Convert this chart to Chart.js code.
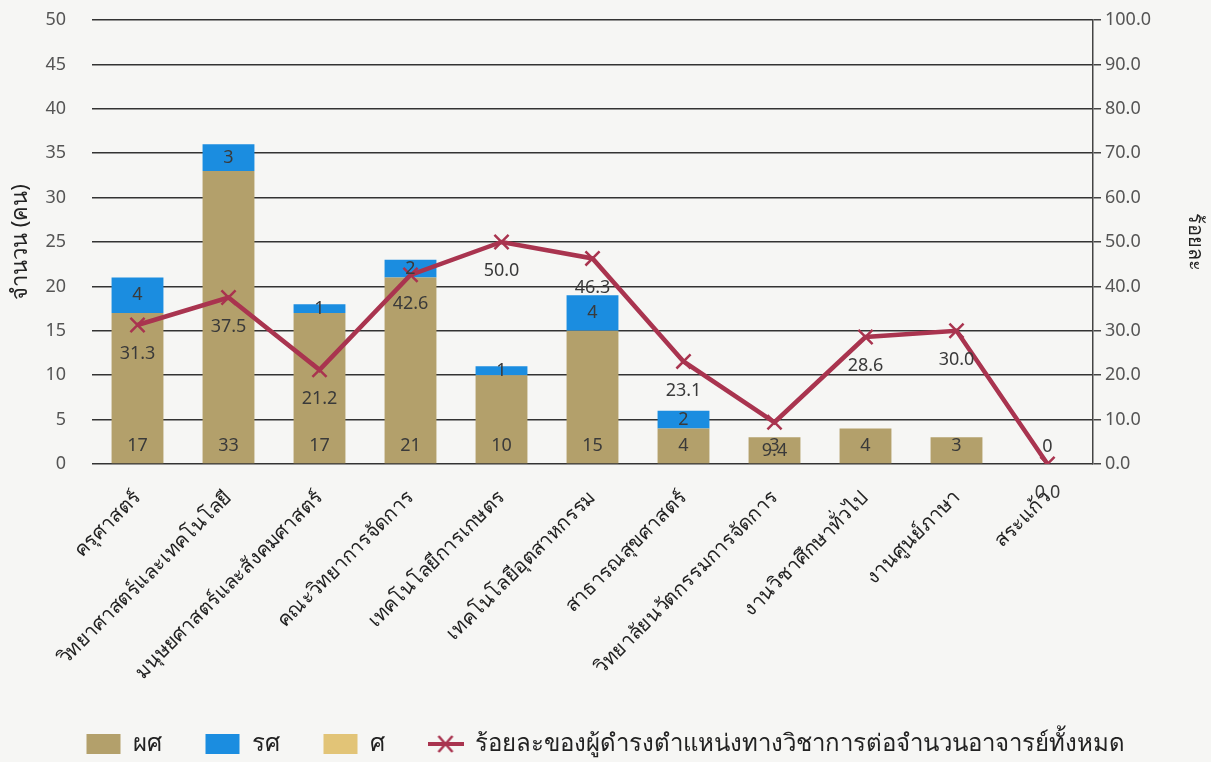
<!DOCTYPE html>
<html>
<head>
<meta charset="utf-8">
<script src="https://cdn.jsdelivr.net/npm/chart.js@4"></script>
<style>
  html, body { margin: 0; padding: 0; background: #f6f6f4; }
  #wrap { width: 1211px; height: 762px; }
</style>
</head>
<body>
<div id="wrap"><canvas id="myChart" width="1211" height="762"></canvas></div>
<script>
var categories = ['ครุศาสตร์', 'วิทยาศาสตร์และเทคโนโลยี', 'มนุษยศาสตร์และสังคมศาสตร์', 'คณะวิทยาการจัดการ',
    'เทคโนโลยีการเกษตร', 'เทคโนโลยีอุตสาหกรรม', 'สาธารณสุขศาสตร์', 'วิทยาลัยนวัตกรรมการจัดการ',
    'งานวิชาศึกษาทั่วไป', 'งานศูนย์ภาษา', 'สระแก้ว'];
var asstProf = [17, 33, 17, 21, 10, 15, 4, 3, 4, 3, 0];     // ผศ
var assocProf = [4, 3, 1, 2, 1, 4, 2, 0, 0, 0, 0];          // รศ
var fullProf = [0, 0, 0, 0, 0, 0, 0, 0, 0, 0, 0];           // ศ
var percent = [31.3, 37.5, 21.2, 42.6, 50.0, 46.3, 23.1, 9.4, 28.6, 30.0, 0.0];
var leftTicks = [0, 5, 10, 15, 20, 25, 30, 35, 40, 45, 50];
var rightTicks = [0, 10, 20, 30, 40, 50, 60, 70, 80, 90, 100];

var FONT = "'Noto Sans', 'DejaVu Sans', sans-serif";
var LINE_COLOR = '#a9344f';
Chart.defaults.font.family = FONT;
Chart.defaults.color = '#444';

// legend symbol for the line: short line with an x on it
var lineIcon = document.createElement('canvas');
lineIcon.width = 36;
lineIcon.height = 22;
(function() {
    var c = lineIcon.getContext('2d');
    c.strokeStyle = LINE_COLOR;
    c.lineWidth = 4;
    c.beginPath(); c.moveTo(0, 11); c.lineTo(36, 11); c.stroke();
    c.lineWidth = 2.5;
    c.beginPath();
    c.moveTo(11, 3); c.lineTo(25, 19);
    c.moveTo(25, 3); c.lineTo(11, 19);
    c.stroke();
})();

// draws the numbers on the bars and under the line points
var valueLabels = {
    id: 'valueLabels',
    afterDatasetsDraw: function(chart) {
        var ctx = chart.ctx;
        ctx.save();
        ctx.font = '18px ' + FONT;
        ctx.fillStyle = '#3a3a3a';
        ctx.textAlign = 'center';
        ctx.textBaseline = 'middle';
        var m0 = chart.getDatasetMeta(0);
        m0.data.forEach(function(bar, i) {
            ctx.fillText(String(asstProf[i]), bar.x, bar.base - 17);
        });
        var m1 = chart.getDatasetMeta(1);
        m1.data.forEach(function(bar, i) {
            if (assocProf[i] > 0) ctx.fillText(String(assocProf[i]), bar.x, (bar.y + bar.base) / 2);
        });
        var m3 = chart.getDatasetMeta(3);
        m3.data.forEach(function(pt, i) {
            ctx.fillText(percent[i].toFixed(1), pt.x, pt.y + 29);
        });
        ctx.restore();
    }
};

var bgPlugin = {
    id: 'bg',
    beforeDraw: function(chart) {
        var ctx = chart.ctx;
        ctx.save();
        ctx.fillStyle = '#f6f6f4';
        ctx.fillRect(0, 0, chart.width, chart.height);
        ctx.restore();
    }
};

var ctx = document.getElementById('myChart').getContext('2d');
var myChart = new Chart(ctx, {
    data: {
        labels: categories,
        datasets: [{
            type: 'bar',
            label: 'ผศ',
            data: asstProf,
            backgroundColor: '#b3a06b',
            pointStyle: 'rect',
            stack: 's',
            order: 2
        }, {
            type: 'bar',
            label: 'รศ',
            data: assocProf,
            backgroundColor: '#1b8de0',
            pointStyle: 'rect',
            stack: 's',
            order: 2
        }, {
            type: 'bar',
            label: 'ศ',
            data: fullProf,
            backgroundColor: '#e2c477',
            pointStyle: 'rect',
            stack: 's',
            order: 2
        }, {
            type: 'line',
            label: 'ร้อยละของผู้ดำรงตำแหน่งทางวิชาการต่อจำนวนอาจารย์ทั้งหมด',
            data: percent,
            yAxisID: 'y1',
            borderColor: LINE_COLOR,
            backgroundColor: LINE_COLOR,
            borderWidth: 4.5,
            pointStyle: 'crossRot',
            pointRadius: 10,
            pointBorderWidth: 2.5,
            tension: 0,
            order: 1
        }]
    },
    options: {
        responsive: false,
        animation: false,
        layout: { padding: { top: 20, left: 0, right: 0, bottom: -4 } },
        datasets: {
            bar: { categoryPercentage: 1.0, barPercentage: 0.57 }
        },
        plugins: {
            legend: {
                position: 'bottom',
                labels: {
                    usePointStyle: true,
                    pointStyleWidth: 34,
                    boxHeight: 20,
                    padding: 44,
                    color: '#222',
                    font: { size: 24 },
                    sort: function(a, b) { return a.datasetIndex - b.datasetIndex; },
                    generateLabels: function(chart) {
                        var items = Chart.defaults.plugins.legend.labels.generateLabels(chart);
                        items.forEach(function(it) {
                            if (it.datasetIndex === 3) it.pointStyle = lineIcon;
                        });
                        return items;
                    }
                }
            },
            tooltip: { enabled: false }
        },
        scales: {
            x: {
                stacked: true,
                grid: { display: false },
                border: { display: false },
                ticks: {
                    minRotation: 45,
                    maxRotation: 45,
                    autoSkip: false,
                    padding: 14,
                    color: '#222',
                    font: { size: 20 }
                },
                afterFit: function(scale) { scale.height = 224; }
            },
            y: {
                stacked: true,
                position: 'left',
                min: 0,
                max: 50,
                afterBuildTicks: function(scale) {
                    scale.ticks = leftTicks.map(function(v) { return { value: v }; });
                },
                grid: { color: '#333', lineWidth: 1.5, tickLength: 0 },
                border: { display: false },
                ticks: { color: '#555', font: { size: 18 }, padding: 26 },
                title: { display: true, text: 'จำนวน (คน)', color: '#222', font: { size: 22 }, padding: { top: 8, bottom: 0 } },
                afterFit: function(scale) {
                    scale.width = 92;
                    scale.paddingTop = 0;
                    scale.paddingBottom = 0;
                }
            },
            y1: {
                position: 'right',
                min: 0,
                max: 100,
                afterBuildTicks: function(scale) {
                    scale.ticks = rightTicks.map(function(v) { return { value: v }; });
                },
                grid: { drawOnChartArea: false, color: '#444', lineWidth: 1.5, tickLength: 8 },
                border: { display: true, color: '#444', width: 1.5 },
                ticks: {
                    color: '#555',
                    font: { size: 18 },
                    padding: 4,
                    callback: function(v) { return v.toFixed(1); }
                },
                title: { display: true, text: 'ร้อยละ', color: '#222', font: { size: 20 }, padding: 4 },
                afterFit: function(scale) {
                    scale.width = 118;
                    scale.paddingTop = 0;
                    scale.paddingBottom = 0;
                }
            }
        }
    },
    plugins: [bgPlugin, valueLabels]
});
</script>
</body>
</html>
